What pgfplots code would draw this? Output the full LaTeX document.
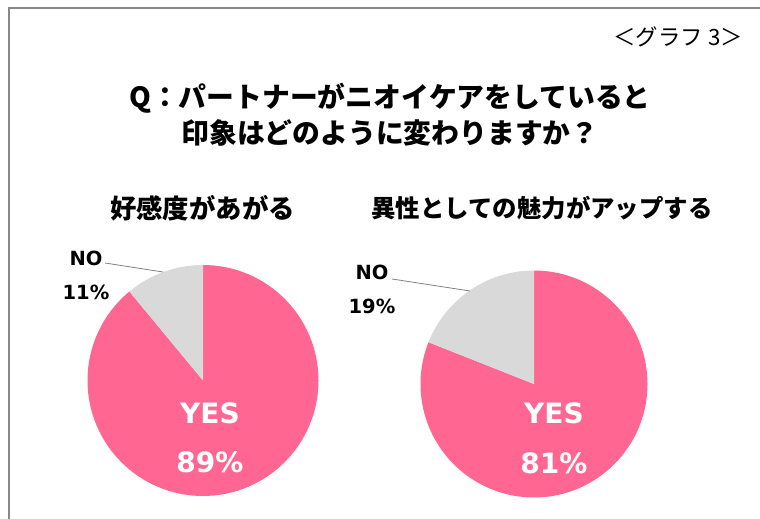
\documentclass[border=0pt]{standalone}
\usepackage{pgfplots}
\pgfplotsset{compat=1.18}
\usepackage{pgfplotstable}
\usepackage{fontspec}
\setmainfont{DejaVu Sans}
\newfontfamily\jp{Noto Sans CJK JP}

\definecolor{yescol}{RGB}{255,102,146}
\definecolor{nocol}{RGB}{217,217,217}
\definecolor{framecol}{RGB}{136,136,136}

% answer shares, in percent
\pgfplotstableread{
answer value
YES    89
NO     11
}\likeability
\pgfplotstableread{
answer value
YES    81
NO     19
}\appeal

% #1 table, #2 #3 centre (px), #4 radius (px); 1px = 0.5pt
\newcommand{\pieaxis}[4]{%
  \pgfplotstablegetelem{0}{value}\of#1\let\yes\pgfplotsretval
  \pgfplotstablegetelem{1}{value}\of#1\let\no\pgfplotsretval
  \pgfmathsetmacro\cx{#2*0.5}
  \pgfmathsetmacro\cy{#3*0.5}
  \pgfmathsetmacro\rad{#4*0.5}
  \pgfmathsetmacro\yesend{90-3.6*\yes}
  \pgfmathsetmacro\noend{90+3.6*\no}
  \begin{axis}[at={(\cx pt,\cy pt)}, anchor=center,
      width=#4pt, height=#4pt, scale only axis,
      xmin=-1, xmax=1, ymin=-1, ymax=1,
      hide axis, clip=false]
    \fill[yescol] (axis cs:0,0) -- (axis cs:0,1)
      arc[start angle=90, end angle=\yesend, radius=\rad pt] -- cycle;
    \fill[nocol] (axis cs:0,0) -- (axis cs:0,1)
      arc[start angle=90, end angle=\noend, radius=\rad pt] -- cycle;
  \end{axis}
}

\begin{document}
\begin{tikzpicture}[x=0.5pt, y=0.5pt]
  \path[use as bounding box] (0,0) rectangle (760,519);
  \draw[framecol, line width=1.1pt] (9,0) -- (9,511) -- (760,511);

  \node[anchor=east, font=\jp\fontsize{11.2}{12}\selectfont] at (750,482) {＜グラフ 3＞};
  \node[align=center, font=\jp\bfseries\fontsize{13.9}{18}\selectfont] at (390,404)
    {Q：パートナーがニオイケアをしていると\\印象はどのように変わりますか？};
  \node[font=\jp\bfseries\fontsize{13.2}{15}\selectfont] at (202.5,311) {好感度があがる};
  \node[font=\jp\bfseries\fontsize{12.2}{15}\selectfont] at (542,311) {異性としての魅力がアップする};

  % left pie
  \pieaxis{\likeability}{203}{138.5}{115.5}
  \draw[gray, line width=0.4pt] (105,256) -- (163,247);
  \node[font=\bfseries\fontsize{9.75}{12}\selectfont] at (86,261) {NO};
  \node[font=\bfseries\fontsize{9.75}{12}\selectfont] at (86,227) {\no\%};
  \node[white, font=\bfseries\fontsize{14}{16}\selectfont] at (210,106) {YES};
  \node[white, font=\bfseries\fontsize{14}{16}\selectfont] at (210,57) {\yes\%};

  % right pie
  \pieaxis{\appeal}{534}{135}{113.5}
  \draw[gray, line width=0.4pt] (392,240) -- (470,228);
  \node[font=\bfseries\fontsize{9.75}{12}\selectfont] at (372,247) {NO};
  \node[font=\bfseries\fontsize{9.75}{12}\selectfont] at (372,213) {\no\%};
  \node[white, font=\bfseries\fontsize{14}{16}\selectfont] at (554,106) {YES};
  \node[white, font=\bfseries\fontsize{14}{16}\selectfont] at (554,56) {\yes\%};
\end{tikzpicture}
\end{document}
